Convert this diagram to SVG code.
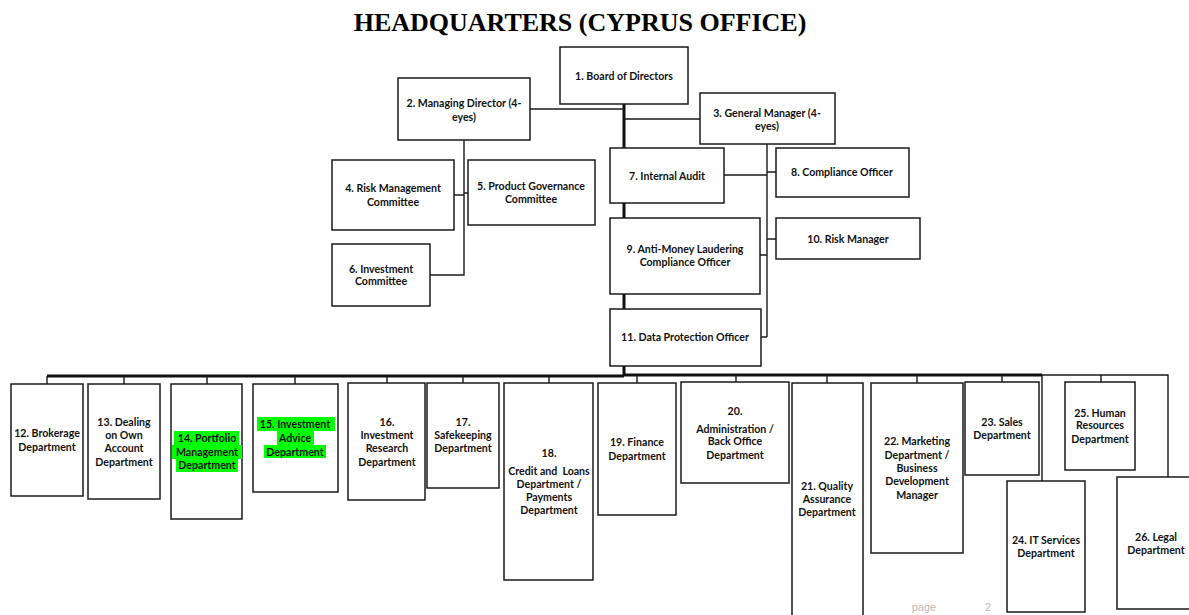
<svg xmlns="http://www.w3.org/2000/svg" width="1189" height="615" viewBox="0 0 1189 615">
<style>
.b{fill:#fff;stroke:#1a1a1a;stroke-width:1.5}
.t{font-family:Lato,"Liberation Sans",sans-serif;font-weight:bold;font-size:10.6px;fill:#111;text-anchor:middle}
.c{fill:none;stroke:#1a1a1a;stroke-width:1.4}
.k{fill:none;stroke:#111;stroke-width:3}
.h{fill:#00ff00}
.f{font-family:"Liberation Sans",sans-serif;font-size:11px;fill:#bbb;text-anchor:middle}
</style>
<rect width="1189" height="615" fill="#fff"/>
<text x="580" y="31" font-family="Liberation Serif,serif" font-weight="bold" font-size="26" text-anchor="middle" fill="#000">HEADQUARTERS (CYPRUS OFFICE)</text>
<g id="connectors">
<path class="k" d="M624 104V376"/>
<path class="c" d="M530 109H624M624 119H700"/>
<path class="c" d="M464 140V275H430M454 195H464M464 193H468"/>
<path class="c" d="M767 144V337M724 175H767M767 172H776M767 239H776M760 255H767M761 337H767"/>
<path class="k" d="M47 376H624" stroke-width="2.5"/>
<path class="k" d="M624 375H1042" stroke-width="2.5"/>
<path class="c" d="M1042 375H1168V477M1042 375V481"/>
<path class="c" d="M47 376V384M124 376V384M207 376V384M295 376V384M387 376V383M463 376V383M549 375V383M637 375V383M736 375V382M827 375V383M917 375V383M1002 375V382M1101 375V382"/>
</g>
<g id="n1"><rect class="b" x="560" y="47" width="128" height="57"/><text class="t" x="624" y="79.5">1.  Board of Directors</text></g>
<g id="n2"><rect class="b" x="398" y="78" width="132" height="62"/><text class="t" x="464" y="106.5">2. Managing Director (4-</text><text class="t" x="464" y="120.5">eyes)</text></g>
<g id="n3"><rect class="b" x="700" y="93" width="135" height="51"/><text class="t" x="767" y="116.5">3. General Manager (4-</text><text class="t" x="767" y="129.5">eyes)</text></g>
<g id="n4"><rect class="b" x="332" y="160" width="122" height="70"/><text class="t" x="393" y="191.5">4. Risk Management</text><text class="t" x="393" y="205.5">Committee</text></g>
<g id="n5"><rect class="b" x="468" y="160" width="127" height="65"/><text class="t" x="531" y="189.5">5. Product Governance</text><text class="t" x="531" y="202.5">Committee</text></g>
<g id="n6"><rect class="b" x="332" y="244" width="98" height="62"/><text class="t" x="381" y="272.5">6. Investment</text><text class="t" x="381" y="285">Committee</text></g>
<g id="n7"><rect class="b" x="610" y="148" width="114" height="55"/><text class="t" x="667" y="179.5">7. Internal Audit</text></g>
<g id="n8"><rect class="b" x="776" y="148" width="133" height="49"/><text class="t" x="842" y="175.5">8. Compliance Officer</text></g>
<g id="n9"><rect class="b" x="610" y="218" width="150" height="76"/><text class="t" x="685" y="252.5">9. Anti-Money Laudering</text><text class="t" x="685" y="265.5">Compliance Officer</text></g>
<g id="n10"><rect class="b" x="776" y="218" width="144" height="41"/><text class="t" x="848" y="242.5">10. Risk Manager</text></g>
<g id="n11"><rect class="b" x="610" y="309" width="151" height="57"/><text class="t" x="685" y="340.5">11. Data Protection Officer</text></g>
<g id="n12"><rect class="b" x="11" y="384" width="72" height="112"/><text class="t" x="47" y="436.5">12. Brokerage</text><text class="t" x="47" y="450.5">Department</text></g>
<g id="n13"><rect class="b" x="88" y="384" width="72" height="115"/><text class="t" x="124" y="425.5">13. Dealing</text><text class="t" x="124" y="438.5">on Own</text><text class="t" x="124" y="451.5">Account</text><text class="t" x="124" y="465.5">Department</text></g>
<g id="n14"><rect class="b" x="171" y="384" width="71" height="135"/><rect class="h" x="174" y="431" width="65" height="14"/><rect class="h" x="172" y="445" width="70" height="14"/><rect class="h" x="176" y="459" width="62" height="13"/><text class="t" x="207" y="441.5">14. Portfolio</text><text class="t" x="207" y="455.5">Management</text><text class="t" x="207" y="468.5">Department</text></g>
<g id="n15"><rect class="b" x="253" y="384" width="85" height="108"/><rect class="h" x="257" y="417" width="78" height="14"/><rect class="h" x="277" y="431" width="37" height="14"/><rect class="h" x="264" y="445" width="62" height="13"/><text class="t" x="295" y="427.5">15. Investment</text><text class="t" x="295" y="441.5">Advice</text><text class="t" x="295" y="455.5">Department</text></g>
<g id="n16"><rect class="b" x="348" y="383" width="77" height="117"/><text class="t" x="387" y="425.5">16.</text><text class="t" x="387" y="438.5">Investment</text><text class="t" x="387" y="451.5">Research</text><text class="t" x="387" y="465.5">Department</text></g>
<g id="n17"><rect class="b" x="427" y="383" width="72" height="105"/><text class="t" x="463" y="425.5">17.</text><text class="t" x="463" y="438.5">Safekeeping</text><text class="t" x="463" y="451.5">Department</text></g>
<g id="n18"><rect class="b" x="504" y="383" width="89" height="197"/><text class="t" x="549" y="456.5">18.</text><text class="t" x="549" y="474.5" xml:space="preserve">Credit and  Loans</text><text class="t" x="549" y="487.5">Department /</text><text class="t" x="549" y="500.5">Payments</text><text class="t" x="549" y="513.5">Department</text></g>
<g id="n19"><rect class="b" x="598" y="383" width="78" height="132"/><text class="t" x="637" y="445.5">19. Finance</text><text class="t" x="637" y="459.5">Department</text></g>
<g id="n20"><rect class="b" x="681" y="382" width="108" height="101"/><text class="t" x="735" y="414.5">20.</text><text class="t" x="735" y="432.5">Administration /</text><text class="t" x="735" y="444.5">Back Office</text><text class="t" x="735" y="458.5">Department</text></g>
<g id="n21"><rect class="b" x="792" y="383" width="71" height="234"/><text class="t" x="827" y="489.5">21. Quality</text><text class="t" x="827" y="502.5">Assurance</text><text class="t" x="827" y="515.5">Department</text></g>
<g id="n22"><rect class="b" x="871" y="383" width="92" height="170"/><text class="t" x="917" y="444.5">22. Marketing</text><text class="t" x="917" y="458.5">Department /</text><text class="t" x="917" y="471.5">Business</text><text class="t" x="917" y="484.5">Development</text><text class="t" x="917" y="498.5">Manager</text></g>
<g id="n23"><rect class="b" x="965" y="382" width="74" height="93"/><text class="t" x="1002" y="425.5">23. Sales</text><text class="t" x="1002" y="438.5">Department</text></g>
<g id="n24"><rect class="b" x="1007" y="481" width="78" height="131"/><text class="t" x="1046" y="543.5">24. IT Services</text><text class="t" x="1046" y="556.5">Department</text></g>
<g id="n25"><rect class="b" x="1065" y="382" width="70" height="88"/><text class="t" x="1100" y="416.5">25. Human</text><text class="t" x="1100" y="428.5">Resources</text><text class="t" x="1100" y="442.5">Department</text></g>
<g id="n26"><rect class="b" x="1117" y="477" width="78" height="132"/><text class="t" x="1156" y="540.5">26. Legal</text><text class="t" x="1156" y="553.5">Department</text></g>
<text class="f" x="924" y="611">page</text>
<text class="f" x="988" y="611">2</text>
</svg>
